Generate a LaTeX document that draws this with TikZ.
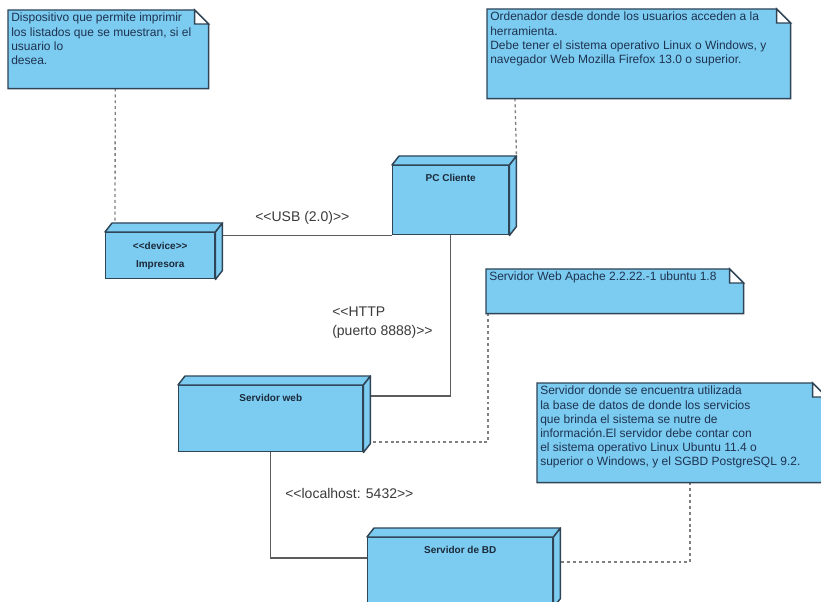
\documentclass[tikz,border=0pt]{standalone}
\usepackage{fontspec}
\setmainfont{Liberation Sans}[Ligatures=TeXOff]
\usetikzlibrary{calc}
\pgfdeclarelayer{bg}
\pgfsetlayers{bg,main}

\definecolor{nodeblue}{HTML}{7CCBF1}
\definecolor{edgedark}{HTML}{2F4556}
\definecolor{notetext}{HTML}{1E3350}
\definecolor{titletext}{HTML}{1B2A3A}
\definecolor{wire}{HTML}{5C5C5C}
\definecolor{depwire}{HTML}{808080}
\definecolor{labeltext}{HTML}{3A3A3A}

% stereotype brackets written as plain angle brackets
\newcommand\stereo[1]{\textless\textless#1\textgreater\textgreater}

\tikzset{
  devbox/.style={draw=edgedark, fill=nodeblue, line width=1.1pt, rectangle,
                 inner sep=0pt, anchor=north west},
  devface/.style={draw=edgedark, fill=nodeblue, line width=1.1pt, line join=round},
  devtitle/.style={font=\bfseries\fontsize{7.5}{13.5}\selectfont, text=titletext,
                   align=center, inner sep=0pt},
  notebody/.style={rectangle, inner sep=0pt, anchor=north west},
  notefill/.style={draw=edgedark, fill=nodeblue, line width=1.1pt, line join=miter},
  notetxt/.style={font=\fontsize{9}{10.6}\selectfont, text=notetext, align=left,
                  inner sep=0pt, anchor=north west},
  wireline/.style={draw=wire, line width=1pt},
  depline/.style={draw=depwire, line width=1pt, dash pattern=on 2.2pt off 2.2pt},
  wirelabel/.style={font=\fontsize{10.5}{14}\selectfont, text=labeltext,
                    inner sep=0pt, align=left},
}

% 3D deployment node: name, left, top, right, bottom
\newcommand\devnode[5]{%
  \node[devbox, minimum width={(#4-#2)*0.75pt}, minimum height={(#5-#3)*0.75pt}] (#1) at (#2,#3) {};
  \filldraw[devface] (#1.north west) -- ++(7,-9) -- ([shift={(7,-9)}]#1.north east)
        -- (#1.north east) -- cycle;
  \filldraw[devface] (#1.north east) -- ([shift={(7,-9)}]#1.north east)
        -- ([shift={(7,-9)}]#1.south east) -- (#1.south east) -- cycle;
}

% note with folded corner: name, left, top, right, bottom, text
\newcommand\umlnote[6]{%
  \node[notebody, minimum width={(#4-#2)*0.75pt}, minimum height={(#5-#3)*0.75pt}] (#1) at (#2,#3) {};
  \filldraw[notefill] (#1.north west) -- ([shift={(-14,0)}]#1.north east)
        -- ([shift={(0,14)}]#1.north east) -- (#1.south east) -- (#1.south west) -- cycle;
  \filldraw[notefill, fill=white] ([shift={(-14,0)}]#1.north east)
        -- ([shift={(-14,14)}]#1.north east) -- ([shift={(0,14)}]#1.north east) -- cycle;
  \node[notetxt] (#1-text) at ([shift={(3,3)}]#1.north west) {#6};
}

\begin{document}
\begin{tikzpicture}[x=0.75pt, y=-0.75pt]
  \begin{pgfonlayer}{bg}
    \fill[white] (0,0) rectangle (821,602);
  \end{pgfonlayer}
  \useasboundingbox (0,0) rectangle (821,602);

  % deployment nodes
  \devnode{imp}{105}{232}{214}{278}
  \node[devtitle] (imp-title) at (imp.center) {\stereo{device}\\Impresora};

  \devnode{pc}{392}{165}{508}{234}
  \node[devtitle] (pc-title) at ([shift={(0,13)}]pc.north) {PC Cliente};

  \devnode{web}{178}{385}{362}{451}
  \node[devtitle] (web-title) at ([shift={(0,13)}]web.north) {Servidor web};

  \devnode{bd}{367}{537}{552}{606}
  \node[devtitle] (bd-title) at ([shift={(0,13)}]bd.north) {Servidor de BD};

  % notes
  \umlnote{n1}{8}{10}{208}{88}{Dispositivo que permite imprimir\\los listados que se muestran, si el\\usuario lo\\desea.}
  \umlnote{n2}{487}{9}{790}{98}{Ordenador desde donde los usuarios acceden a la\\herramienta.\\Debe tener el sistema operativo Linux o Windows, y\\navegador Web Mozilla Firefox 13.0 o superior.}
  \umlnote{n3}{486}{269}{743}{313}{Servidor Web Apache 2.2.22.-1 ubuntu 1.8}
  \umlnote{n4}{537}{383}{826}{482}{Servidor donde se encuentra utilizada\\la base de datos de donde los servicios\\que brinda el sistema se nutre de\\información.El servidor debe contar con\\el sistema operativo Linux Ubuntu 11.4 o\\superior o Windows, y el SGBD PostgreSQL 9.2.}

  % communication paths and note anchors, kept beneath the boxes
  \begin{pgfonlayer}{bg}
    \draw[wireline] (pc.south west -| imp.east) -- (pc.south west);
    \draw[wireline] (pc.south) |- ([shift={(0,11)}]web.north east);
    \draw[wireline] (web.south) |- ([shift={(0,21)}]bd.north west);

    \draw[depline] ([shift={(7,0)}]n1.south) -- ([shift={(10,-9)}]imp.north west);
    \draw[depline] ([shift={(28,0)}]n2.south west) -- ([shift={(7,-9)}]pc.north east);
    \draw[depline] ([shift={(2,0)}]n3.south west) |- ([shift={(7,57)}]web.north east);
    \draw[depline] ([shift={(153,0)}]n4.south west) |- ([shift={(7,25)}]bd.north east);
  \end{pgfonlayer}

  % path labels
  \node[wirelabel, anchor=west] (usb-label) at (255,218) {\stereo{USB (2.0)}};
  \node[wirelabel, anchor=north west] (http-label) at (332,307) {\textless\textless HTTP\\(puerto 8888)\textgreater\textgreater};
  \node[wirelabel, anchor=west] (lh-label) at (285,493) {\stereo{localhost: 5432}};
\end{tikzpicture}
\end{document}
